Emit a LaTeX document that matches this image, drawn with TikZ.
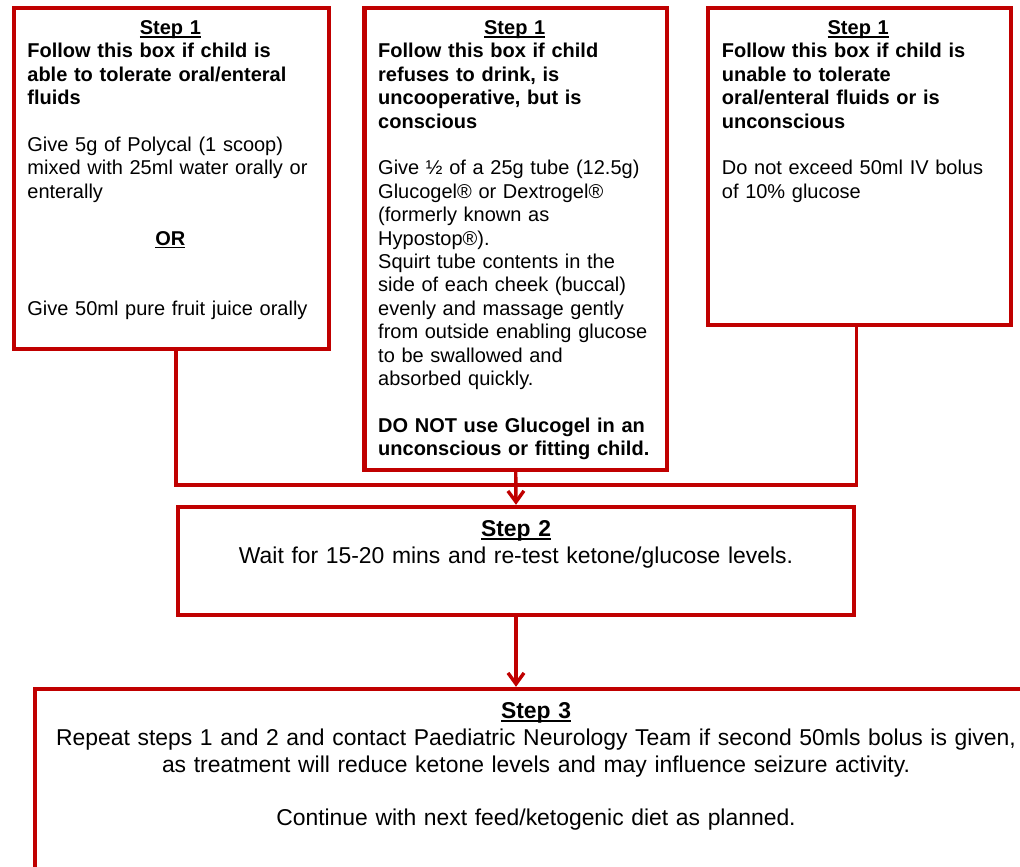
\documentclass[tikz,border=0pt]{standalone}
\usepackage{fontspec}
\setmainfont{Liberation Sans}
\usetikzlibrary{positioning,fit,arrows.meta}
\definecolor{flowred}{RGB}{192,0,0}
\newcommand{\ulword}[1]{\setbox0\hbox{#1}\rlap{\rule[-0.15em]{\wd0}{0.075em}}\box0}
\newcommand{\steptitle}[2]{\makebox[#1]{\bfseries\ulword{#2}}}
\tikzset{
	flowbox/.style={draw=flowred, line width=2.2pt, inner sep=0pt},
	flowline/.style={draw=flowred, line width=1.7pt, line join=miter},
	boxtext/.style={inner sep=0pt, text width=150pt, align=left, font=\fontsize{10pt}{11.7pt}\selectfont},
	steptext/.style={inner sep=0pt, text width=#1, align=center, font=\fontsize{11.45pt}{13.4pt}\selectfont}
}

\begin{document}
\begin{tikzpicture}[x=0.5pt,y=-0.5pt]
			\useasboundingbox (0,0) rectangle (1020,866);
			\clip (0,0) rectangle (1020,866);
			\fill[white] (0,0) rectangle (1020,866);
			\node[flowbox, fit={(14,8) (329,349)}] (boxA) {};
			\node[flowbox, fit={(364.5,8) (667,470)}] (boxB) {};
			\node[flowbox, fit={(708,8) (1011,325)}] (boxC) {};
			\node[flowbox, fit={(178,507) (854,615)}] (step2) {};
			\node[flowbox, fit={(35,689) (1037,1000)}] (step3) {};
			\node[boxtext, below right=6pt and 7.6pt of boxA.north west] (textA) {\strut\steptitle{143pt}{Step 1}\\
				\bfseries Follow this box if child is\\ able to tolerate oral/enteral\\ fluids\\[11.7pt]
				\mdseries Give 5g of Polycal (1 scoop)\\ mixed with 25ml water orally or\\ enterally\\[11.7pt]
				\steptitle{143pt}{OR}\\[23.4pt]
				Give 50ml pure fruit juice orally};
			\node[boxtext, below right=6pt and 7.75pt of boxB.north west] (textB) {\strut\steptitle{136.5pt}{Step 1}\\
				\bfseries Follow this box if child\\ refuses to drink, is\\ uncooperative, but is\\ conscious\\[11.7pt]
				\mdseries Give ½ of a 25g tube (12.5g)\\ Glucogel® or Dextrogel®\\ (formerly known as\\ Hypostop®).\\
				Squirt tube contents in the\\ side of each cheek (buccal)\\ evenly and massage gently\\ from outside enabling glucose\\ to be swallowed and\\ absorbed quickly.\\[11.7pt]
				\bfseries DO NOT use Glucogel in an\\ unconscious or fitting child.};
			\node[boxtext, below right=6pt and 7.85pt of boxC.north west] (textC) {\strut\steptitle{136.3pt}{Step 1}\\
				\bfseries Follow this box if child is\\ unable to tolerate\\ oral/enteral fluids or is\\ unconscious\\[11.7pt]
				\mdseries Do not exceed 50ml IV bolus\\ of 10\% glucose};
			\node[steptext=330pt, below=6.4pt of step2.north] (text2) {\strut{\bfseries\ulword{Step 2}}\\
				Wait for 15-20 mins and re-test ketone/glucose levels.};
			\node[steptext=500pt, below=6.3pt of step3.north] (text3) {\strut{\bfseries\ulword{Step 3}}\\
				Repeat steps 1 and 2 and contact Paediatric Neurology Team if second 50mls bolus is given,\\
				as treatment will reduce ketone levels and may influence seizure activity.\\[13.4pt]
				Continue with next feed/ketogenic diet as planned.};
			\coordinate (join) at (boxB.south |- 0,485);
			\draw[flowline] (boxA.south -| step2.west) |- (join) -| (boxC.south -| step2.east);
			\draw[flowline, -{Straight Barb[length=5.5pt,width=8pt]}] (boxB.south) -- (step2.north);
			\draw[flowline, -{Straight Barb[length=5.5pt,width=8pt]}] (step2.south) -- (step2.south |- step3.north);
\end{tikzpicture}
\end{document}
